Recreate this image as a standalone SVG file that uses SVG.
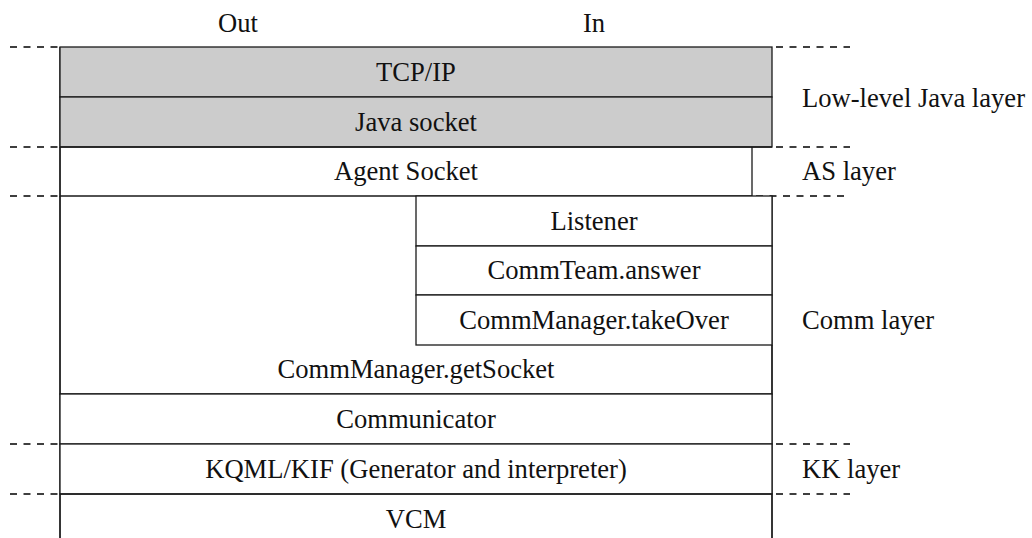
<svg xmlns="http://www.w3.org/2000/svg" width="1032" height="538" viewBox="0 0 1032 538">
  <style>
    .box { fill: #ffffff; stroke: #1a1a1a; stroke-width: 1.3; }
    .gray { fill: #cccccc; stroke: #1a1a1a; stroke-width: 1.3; }
    .edge { fill: none; stroke: #1a1a1a; stroke-width: 1.3; }
    .dash { fill: none; stroke: #000000; stroke-width: 1.3; stroke-dasharray: 7 6.5; }
    text { font-family: "Liberation Serif", Tinos, "DejaVu Serif", serif; font-size: 26.6px; fill: #111111; }
    .c { text-anchor: middle; }
  </style>

  <!-- column headings -->
  <g id="headings">
    <text class="c" x="238" y="32">Out</text>
    <text class="c" x="594" y="32">In</text>
  </g>

  <!-- layer boundaries -->
  <g id="boundaries">
    <line class="dash" x1="10" y1="47" x2="58" y2="47"/>
    <line class="dash" x1="776" y1="47" x2="850" y2="47"/>
    <line class="dash" x1="10" y1="147" x2="58" y2="147"/>
    <line class="dash" x1="776" y1="147" x2="850" y2="147"/>
    <line class="dash" x1="10" y1="196" x2="58" y2="196"/>
    <line class="dash" x1="756" y1="196" x2="850" y2="196"/>
    <line class="dash" x1="10" y1="444" x2="58" y2="444"/>
    <line class="dash" x1="776" y1="444" x2="850" y2="444"/>
    <line class="dash" x1="10" y1="494" x2="58" y2="494"/>
    <line class="dash" x1="776" y1="494" x2="850" y2="494"/>
  </g>

  <!-- layer names -->
  <g id="layer-names">
    <text x="802" y="107">Low-level Java layer</text>
    <text x="802" y="180">AS layer</text>
    <text x="802" y="329">Comm layer</text>
    <text x="802" y="478">KK layer</text>
  </g>

  <g id="connectors">
    <!-- outer frame verticals running down past the stack -->
    <path class="edge" d="M60 47 V538"/>
    <path class="edge" d="M772 196 V538"/>
  </g>

  <g id="tcpip">
    <rect class="gray" x="60" y="47" width="712" height="50"/>
    <text class="c" x="416" y="81">TCP/IP</text>
  </g>

  <g id="java-socket">
    <rect class="gray" x="60" y="97" width="712" height="50"/>
    <text class="c" x="416" y="131">Java socket</text>
  </g>

  <g id="agent-socket">
    <path class="edge" d="M60 147 H772 M60 147 V196 H752 V147"/>
    <text class="c" x="406" y="180">Agent Socket</text>
  </g>

  <g id="comm-manager-get-socket">
    <path class="edge" d="M60 196 V394 H772 V345"/>
    <text class="c" x="416" y="378">CommManager.getSocket</text>
  </g>

  <g id="listener">
    <rect class="box" x="416" y="196" width="356" height="50"/>
    <text class="c" x="594" y="230">Listener</text>
  </g>

  <g id="comm-team-answer">
    <rect class="box" x="416" y="246" width="356" height="49"/>
    <text class="c" x="594" y="279">CommTeam.answer</text>
  </g>

  <g id="comm-manager-take-over">
    <rect class="box" x="416" y="295" width="356" height="50"/>
    <text class="c" x="594" y="329">CommManager.takeOver</text>
  </g>

  <g id="communicator">
    <rect class="box" x="60" y="394" width="712" height="50"/>
    <text class="c" x="416" y="428">Communicator</text>
  </g>

  <g id="kqml-kif">
    <rect class="box" x="60" y="444" width="712" height="50"/>
    <text class="c" x="416" y="478">KQML/KIF (Generator and interpreter)</text>
  </g>

  <g id="vcm">
    <path class="edge" d="M60 538 V494 H772 V538"/>
    <text class="c" x="416" y="528">VCM</text>
  </g>
</svg>
